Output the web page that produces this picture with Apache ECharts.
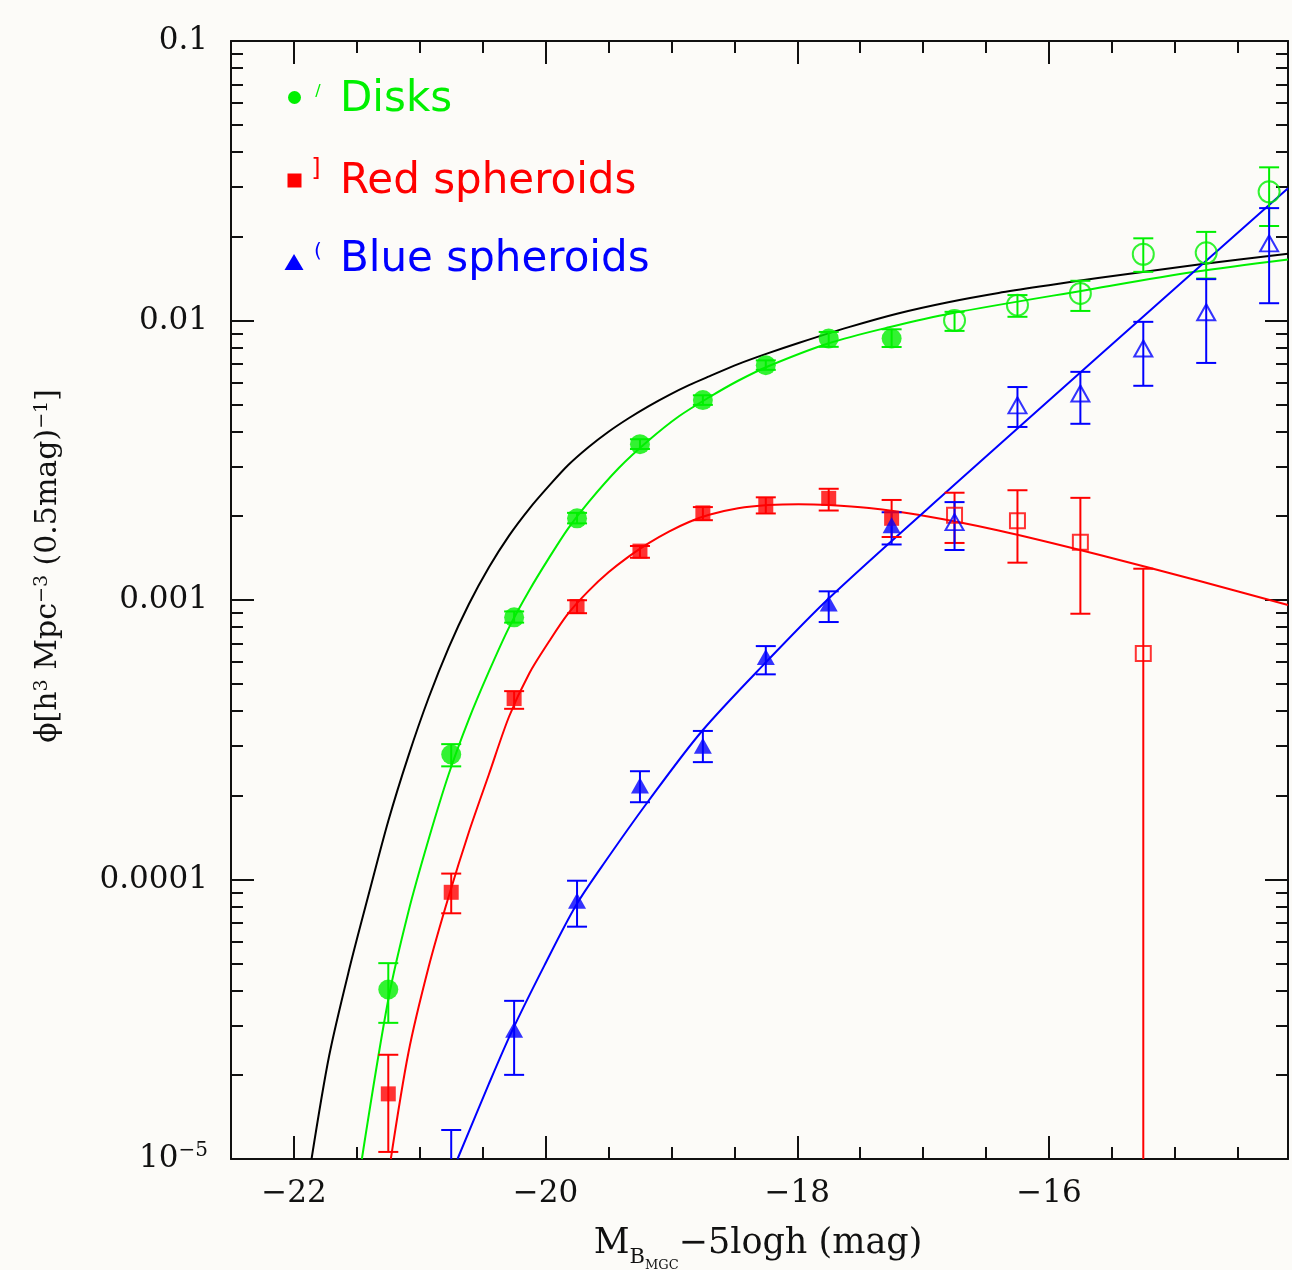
<!DOCTYPE html>
<html>
<head>
<meta charset="utf-8">
<title>Luminosity functions by type</title>
<script src="https://cdn.jsdelivr.net/npm/echarts@6/dist/echarts.min.js"></script>
<style>
  html, body { margin: 0; padding: 0; background: #fcfbf8; }
  #chart { width: 1292px; height: 1270px; }
</style>
</head>
<body>
<div id="chart"></div>
<script>
// magnitude bins (0.5 mag wide)
const magBins = [-21.25, -20.75, -20.25, -19.75, -19.25, -18.75, -18.25, -17.75, -17.25,
                 -16.75, -16.25, -15.75, -15.25, -14.75, -14.25];
const openFrom = -17; // fainter bins are plotted with open symbols

// disks
const diskPhi = [4.04e-5, 2.80e-4, 8.67e-4, 1.96e-3, 3.61e-3, 5.19e-3, 6.92e-3, 8.62e-3, 8.62e-3,
                 1.00e-2, 1.135e-2, 1.25e-2, 1.726e-2, 1.747e-2, 2.887e-2];
const diskLo = [3.07e-5, 2.54e-4, 8.3e-4, 1.88e-3, 3.47e-3, 4.99e-3, 6.66e-3, 8.05e-3, 8.04e-3,
                9.18e-3, 1.031e-2, 1.082e-2, 1.493e-2, 1.413e-2, 2.178e-2];
const diskHi = [5.02e-5, 3.05e-4, 9.1e-4, 2.05e-3, 3.76e-3, 5.4e-3, 7.2e-3, 9.1e-3, 9.3e-3,
                1.074e-2, 1.233e-2, 1.387e-2, 1.968e-2, 2.075e-2, 3.532e-2];

// red spheroids
const redPhi = [1.71e-5, 9.0e-5, 4.44e-4, 9.48e-4, 1.496e-3, 2.05e-3, 2.18e-3, 2.31e-3, 1.96e-3,
                2.01e-3, 1.92e-3, 1.61e-3, 6.43e-4, null, null];
const redLo = [1.06e-5, 7.57e-5, 4.08e-4, 8.97e-4, 1.416e-3, 1.93e-3, 2.04e-3, 2.09e-3, 1.68e-3,
               1.60e-3, 1.36e-3, 8.93e-4, 1e-6, null, null];
const redHi = [2.36e-5, 1.05e-4, 4.72e-4, 9.98e-4, 1.56e-3, 2.15e-3, 2.33e-3, 2.50e-3, 2.28e-3,
               2.42e-3, 2.47e-3, 2.32e-3, 1.294e-3, null, null];

// blue spheroids
const bluePhi = [null, 6e-6, 2.90e-5, 8.39e-5, 2.17e-4, 3.01e-4, 6.25e-4, 9.71e-4, 1.85e-3,
                 1.90e-3, 4.97e-3, 5.48e-3, 7.94e-3, 1.07e-2, 1.888e-2];
const blueLo = [null, 1e-6, 2.0e-5, 6.78e-5, 1.89e-4, 2.63e-4, 5.42e-4, 8.34e-4, 1.58e-3,
                1.51e-3, 4.16e-3, 4.27e-3, 5.84e-3, 7.05e-3, 1.153e-2];
const blueHi = [null, 1.27e-5, 3.68e-5, 9.9e-5, 2.44e-4, 3.40e-4, 6.84e-4, 1.074e-3, 2.06e-3,
                2.24e-3, 5.78e-3, 6.55e-3, 9.89e-3, 1.406e-2, 2.524e-2];

// fitted curves [mag, phi]
const totalFit = [[-21.86, 1.0e-5], [-21.72, 2.34e-5], [-21.56, 4.78e-5], [-21.40, 9.05e-5],
  [-21.25, 1.62e-4], [-21.09, 2.77e-4], [-20.93, 4.46e-4], [-20.77, 6.76e-4], [-20.61, 9.66e-4],
  [-20.45, 1.31e-3], [-20.29, 1.70e-3], [-20.13, 2.12e-3], [-19.97, 2.57e-3], [-19.82, 3.04e-3],
  [-19.66, 3.52e-3], [-19.50, 4.00e-3], [-19.34, 4.47e-3], [-19.18, 4.94e-3], [-19.02, 5.41e-3],
  [-18.86, 5.87e-3], [-18.70, 6.31e-3], [-18.47, 6.98e-3], [-18.23, 7.64e-3], [-17.99, 8.31e-3],
  [-17.59, 9.47e-3], [-17.20, 1.06e-2], [-16.80, 1.163e-2], [-16.40, 1.255e-2], [-16.00, 1.338e-2],
  [-15.61, 1.42e-2], [-14.81, 1.585e-2], [-14.10, 1.733e-2]];
const diskFit = [[-21.46, 1.0e-5], [-21.25, 3.72e-5], [-21.09, 7.67e-5], [-20.93, 1.39e-4],
  [-20.77, 2.38e-4], [-20.61, 3.74e-4], [-20.45, 5.55e-4], [-20.29, 7.98e-4], [-20.13, 1.082e-3],
  [-19.97, 1.421e-3], [-19.82, 1.805e-3], [-19.66, 2.236e-3], [-19.42, 2.96e-3], [-19.18, 3.727e-3],
  [-18.94, 4.543e-3], [-18.70, 5.313e-3], [-18.47, 6.087e-3], [-18.23, 6.862e-3], [-17.75, 8.293e-3],
  [-17.27, 9.462e-3], [-16.77, 1.062e-2], [-15.71, 1.284e-2], [-14.84, 1.493e-2], [-14.10, 1.654e-2]];
const redFit = [[-21.23, 1.0e-5], [-21.09, 2.40e-5], [-20.93, 4.85e-5], [-20.77, 8.69e-5],
  [-20.61, 1.476e-4], [-20.45, 2.38e-4], [-20.29, 3.83e-4], [-20.13, 5.46e-4], [-19.97, 7.13e-4],
  [-19.82, 8.95e-4], [-19.66, 1.076e-3], [-19.50, 1.256e-3], [-19.34, 1.43e-3], [-19.18, 1.598e-3],
  [-19.02, 1.757e-3], [-18.86, 1.902e-3], [-18.70, 2.018e-3], [-18.47, 2.129e-3], [-18.23, 2.186e-3],
  [-17.99, 2.203e-3], [-17.75, 2.188e-3], [-17.43, 2.133e-3], [-17.04, 2.017e-3], [-16.40, 1.773e-3],
  [-15.61, 1.455e-3], [-14.81, 1.171e-3], [-14.10, 9.59e-4]];
const blueFit = [[-20.70, 1.0e-5], [-20.45, 1.86e-5], [-20.27, 2.85e-5], [-20.01, 4.92e-5],
  [-19.76, 8.06e-5], [-19.52, 1.169e-4], [-19.18, 1.917e-4], [-18.76, 3.385e-4], [-18.25, 5.98e-4],
  [-17.75, 1.013e-3], [-16.72, 2.658e-3], [-15.61, 7.42e-3], [-14.10, 2.97e-2]];

// ticks
const xMajor = [-22, -20, -18, -16];
const xMinor = [-21.5, -21, -20.5, -19.5, -19, -18.5, -17.5, -17, -16.5, -15.5, -15, -14.5];
const yMajor = [1e-5, 1e-4, 1e-3, 1e-2, 1e-1];
const yMinor = [2e-5, 3e-5, 4e-5, 5e-5, 6e-5, 7e-5, 8e-5, 9e-5,
                2e-4, 3e-4, 4e-4, 5e-4, 6e-4, 7e-4, 8e-4, 9e-4,
                2e-3, 3e-3, 4e-3, 5e-3, 6e-3, 7e-3, 8e-3, 9e-3,
                2e-2, 3e-2, 4e-2, 5e-2, 6e-2, 7e-2, 8e-2, 9e-2];

const GREEN = "#00f000";
const RED = "#ff0000";
const BLUE = "#0000ff";
const INK = "#111111";
const SERIF = "DejaVu Serif";

function points(vals, open) {
  return magBins
    .map((m, i) => (vals[i] == null || (m > openFrom) !== open ? null : [m, vals[i]]))
    .filter(Boolean);
}

function bars(lo, hi) {
  return magBins.map((m, i) => (lo[i] == null ? null : [m, lo[i], hi[i]])).filter(Boolean);
}

// vertical error bar with caps, cut at the frame
function errorBar(color) {
  return function (params, api) {
    const m = api.value(0);
    const top = api.coord([m, api.value(2)]);
    const bot = api.coord([m, api.value(1)]);
    const cs = params.coordSys;
    const yTop = cs.y, yBot = cs.y + cs.height;
    const style = { stroke: color, lineWidth: 2, fill: null };
    const kids = [{
      type: "line",
      shape: { x1: top[0], y1: Math.max(top[1], yTop), x2: top[0], y2: Math.min(bot[1], yBot) },
      style: style,
    }];
    if (top[1] >= yTop) {
      kids.push({ type: "line", shape: { x1: top[0] - 10, y1: top[1], x2: top[0] + 10, y2: top[1] }, style: style });
    }
    if (bot[1] <= yBot) {
      kids.push({ type: "line", shape: { x1: bot[0] - 10, y1: bot[1], x2: bot[0] + 10, y2: bot[1] }, style: style });
    }
    return { type: "group", children: kids };
  };
}

function population(color, vals, lo, hi, symbol, size, openSize) {
  return [
    {
      type: "custom", renderItem: errorBar(color), data: bars(lo, hi),
      encode: { x: 0, y: [1, 2] }, silent: true, z: 3,
    },
    {
      type: "scatter", symbol: symbol, symbolSize: size, data: points(vals, false),
      itemStyle: { color: color }, silent: true, clip: true, z: 4,
    },
    {
      type: "scatter", symbol: symbol, symbolSize: openSize, data: points(vals, true),
      itemStyle: { color: "rgba(0,0,0,0)", borderColor: color, borderWidth: 2 },
      silent: true, clip: true, z: 4,
    },
  ];
}

function fitLine(data, color) {
  return {
    type: "line", data: data, smooth: 0.3, showSymbol: false, clip: true, silent: true, z: 2,
    lineStyle: { color: color, width: 2 },
  };
}

function xAxisDef(position, ticks, len, showLabel, showLine) {
  return {
    type: "value", position: position, min: -22.5, max: -14.1,
    axisLine: { show: showLine, lineStyle: { color: INK, width: 2 } },
    axisTick: { inside: true, length: len, customValues: ticks, lineStyle: { color: INK, width: 2 } },
    axisLabel: {
      show: showLabel, customValues: ticks, margin: 19, color: INK,
      fontFamily: SERIF, fontSize: 31,
      formatter: (v) => (v < 0 ? "\u2212" + Math.abs(v) : String(v)),
    },
    splitLine: { show: false },
  };
}

function yTickLabel(v) {
  const e = Math.round(Math.log10(v));
  if (e <= -5) return "{t|10}{e|\u2212" + Math.abs(e) + "}";
  return "{t|" + v.toFixed(-e) + "}";
}

function yAxisDef(position, ticks, len, showLabel, showLine) {
  return {
    type: "log", logBase: 10, position: position, min: 1e-5, max: 0.1,
    axisLine: { show: showLine, lineStyle: { color: INK, width: 2 } },
    axisTick: { inside: true, length: len, customValues: ticks, lineStyle: { color: INK, width: 2 } },
    axisLabel: {
      show: showLabel, customValues: ticks, margin: 23, formatter: yTickLabel,
      rich: {
        t: { fontFamily: SERIF, fontSize: 31, lineHeight: 36, color: INK },
        e: { fontFamily: SERIF, fontSize: 20, lineHeight: 24, verticalAlign: "top", color: INK },
      },
    },
    splitLine: { show: false },
    minorTick: { show: false },
  };
}

const chart = echarts.init(document.getElementById("chart"));
chart.setOption({
  backgroundColor: "#fcfbf8",
  animation: false,
  grid: { left: 231, top: 41, right: 4, bottom: 111, containLabel: false, outerBoundsMode: "none" },
  xAxis: [
    xAxisDef("bottom", xMajor, 23, true, true),
    xAxisDef("bottom", xMinor, 12, false, false),
    xAxisDef("top", xMajor, 23, false, true),
    xAxisDef("top", xMinor, 12, false, false),
  ],
  yAxis: [
    yAxisDef("left", yMajor, 23, true, true),
    yAxisDef("left", yMinor, 12, false, false),
    yAxisDef("right", yMajor, 23, false, true),
    yAxisDef("right", yMinor, 12, false, false),
  ],
  series: [
    fitLine(totalFit, "#000000"),
    fitLine(diskFit, GREEN),
    fitLine(redFit, RED),
    fitLine(blueFit, BLUE),
  ].concat(
    population(GREEN, diskPhi, diskLo, diskHi, "circle", 20, 21),
    population(RED, redPhi, redLo, redHi, "rect", 15, 15),
    population(BLUE, bluePhi, blueLo, blueHi, "triangle", [18, 16], [18, 16])
  ),
  graphic: [
    // key
    { type: "circle", shape: { cx: 294.5, cy: 97.5, r: 6.5 }, style: { fill: GREEN } },
    { type: "rect", shape: { x: 287.5, y: 173.5, width: 14, height: 14 }, style: { fill: RED } },
    { type: "polygon", shape: { points: [[294, 254], [303.5, 270], [284.5, 270]] }, style: { fill: BLUE } },
    { type: "text", x: 318, y: 92, style: { text: "/", fill: GREEN, font: '16px "DejaVu Sans"', align: "center", verticalAlign: "middle" } },
    { type: "text", x: 316, y: 170, style: { text: "]", fill: RED, font: '24px "DejaVu Sans"', align: "center", verticalAlign: "middle" } },
    { type: "text", x: 318, y: 252, style: { text: "(", fill: BLUE, font: '20px "DejaVu Sans"', align: "center", verticalAlign: "middle" } },
    { type: "text", x: 340, y: 100, style: { text: "Disks", fill: GREEN, font: '42px "DejaVu Sans"', verticalAlign: "middle" } },
    { type: "text", x: 340, y: 182, style: { text: "Red spheroids", fill: RED, font: '42px "DejaVu Sans"', verticalAlign: "middle" } },
    { type: "text", x: 340, y: 260, style: { text: "Blue spheroids", fill: BLUE, font: '42px "DejaVu Sans"', verticalAlign: "middle" } },
    // axis titles
    {
      type: "text", x: 758, y: 1245,
      style: {
        text: "{m|M}{b|B}{c|MGC}{m|\u22125logh (mag)}",
        align: "center", verticalAlign: "middle", fill: INK,
        rich: {
          m: { fontFamily: SERIF, fontSize: 35, lineHeight: 38, verticalAlign: "top" },
          b: { fontFamily: SERIF, fontSize: 21, lineHeight: 21, verticalAlign: "top", padding: [21, 0, 0, 0] },
          c: { fontFamily: SERIF, fontSize: 13, lineHeight: 13, verticalAlign: "top", padding: [33, 0, 0, 0] },
        },
      },
    },
    {
      type: "text", x: 52, y: 566, rotation: Math.PI / 2,
      style: {
        text: "{m|\u03d5[h}{s|3}{m| Mpc}{s|\u22123}{m| (0.5mag)}{s|\u22121}{m|]}",
        align: "center", verticalAlign: "middle", fill: INK,
        rich: {
          m: { fontFamily: SERIF, fontSize: 30, lineHeight: 38, verticalAlign: "top" },
          s: { fontFamily: SERIF, fontSize: 19, lineHeight: 22, verticalAlign: "top" },
        },
      },
    },
  ],
});
</script>
</body>
</html>
